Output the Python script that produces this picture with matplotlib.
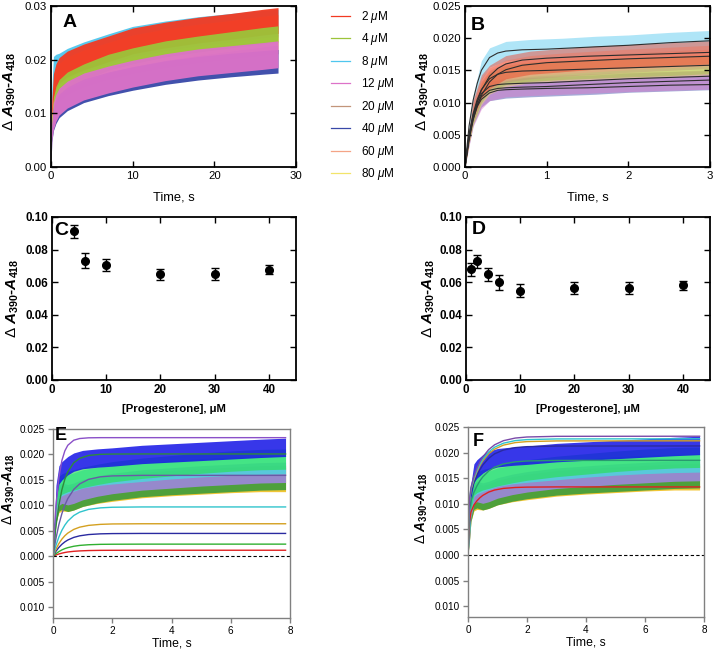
import matplotlib
matplotlib.use('Agg')
import matplotlib.pyplot as plt
import numpy as np
from matplotlib.lines import Line2D
from matplotlib.ticker import FuncFormatter

plt.rcParams['font.family'] = ['Liberation Sans', 'DejaVu Sans']
plt.rcParams['mathtext.fontset'] = 'custom'
plt.rcParams['mathtext.rm'] = 'Liberation Sans'
plt.rcParams['mathtext.it'] = 'Liberation Sans:italic'
plt.rcParams['mathtext.bf'] = 'Liberation Sans:bold'
plt.rcParams['mathtext.bfit'] = 'Liberation Sans:bold:italic'
plt.rcParams['mathtext.sf'] = 'Liberation Sans'

# ---------------- data ----------------
conc_labels = ['2 $\\mu$M', '4 $\\mu$M', '8 $\\mu$M', '12 $\\mu$M',
               '20 $\\mu$M', '40 $\\mu$M', '60 $\\mu$M', '80 $\\mu$M']
conc_colors = ['#f23a22', '#9cc43a', '#4fc6ee', '#dd72c8',
               '#c2957a', '#3848a8', '#f4a486', '#f2e46a']

# Panel A: noisy traces (centre and half-width of noise band)
tA = [0, 0.1, 0.3, 0.6, 1, 2, 4, 7, 10, 14, 18, 22, 26, 27.8]
spreadA = [0, 0.6, 1, 1, 1, 1, 1, 1, 1, 1, 1, 1, 1, 1]
A_2 = [0, 0.011, 0.0150, 0.0168, 0.0180, 0.0192, 0.0205, 0.0220, 0.0235, 0.0246, 0.0255, 0.0262, 0.0270, 0.0273]
A_4 = [0, 0.008, 0.0115, 0.0135, 0.0148, 0.0162, 0.0177, 0.0195, 0.0207, 0.0220, 0.0229, 0.0237, 0.0245, 0.0248]
A_8 = [0, 0.013, 0.0180, 0.0184, 0.0186, 0.0195, 0.0207, 0.0222, 0.0236, 0.0246, 0.0254, 0.0260, 0.0266, 0.0268]
A_12 = [0, 0.0065, 0.0095, 0.0110, 0.0122, 0.0135, 0.0150, 0.0163, 0.0174, 0.0186, 0.0195, 0.0201, 0.0207, 0.0210]
A_20 = [0, 0.008, 0.0112, 0.0128, 0.0140, 0.0153, 0.0167, 0.0181, 0.0192, 0.0203, 0.0212, 0.0219, 0.0226, 0.0229]
A_40 = [0, 0.006, 0.0090, 0.0103, 0.0114, 0.0127, 0.0142, 0.0155, 0.0165, 0.0176, 0.0184, 0.0190, 0.0195, 0.0197]
A_60 = [0, 0.010, 0.0145, 0.0162, 0.0173, 0.0185, 0.0198, 0.0212, 0.0226, 0.0237, 0.0246, 0.0253, 0.0261, 0.0264]
A_80 = [0, 0.0085, 0.0120, 0.0138, 0.0150, 0.0163, 0.0178, 0.0193, 0.0205, 0.0217, 0.0226, 0.0234, 0.0242, 0.0245]
A_traces = [A_2, A_4, A_8, A_12, A_20, A_40, A_60, A_80]
A_hw = [0.0024, 0.0015, 0.0026, 0.0025, 0.0018, 0.0022, 0.0020, 0.0018]
A_order = [2, 4, 7, 6, 0, 1, 5, 3]

# Panel B: noisy traces
tB = [0, 0.05, 0.1, 0.2, 0.3, 0.5, 0.8, 1.2, 1.6, 2.0, 2.5, 3.0]
spreadB = [0, 0.5, 0.8, 1, 1, 1, 1, 1, 1, 1, 1, 1]
B_2 = [0, 0.005, 0.009, 0.0125, 0.0140, 0.0155, 0.0162, 0.0166, 0.0170, 0.0172, 0.0175, 0.0178]
B_4 = [0, 0.0045, 0.008, 0.0115, 0.0132, 0.0143, 0.0148, 0.0151, 0.0153, 0.0155, 0.0157, 0.0160]
B_8 = [0, 0.006, 0.010, 0.0150, 0.0170, 0.0180, 0.0183, 0.0185, 0.0188, 0.0190, 0.0194, 0.0197]
B_12 = [0, 0.004, 0.0075, 0.0105, 0.0118, 0.0124, 0.0126, 0.0128, 0.0130, 0.0132, 0.0134, 0.0136]
B_20 = [0, 0.0045, 0.0082, 0.0118, 0.0135, 0.0147, 0.0152, 0.0156, 0.0159, 0.0162, 0.0165, 0.0168]
B_40 = [0, 0.0042, 0.0077, 0.0108, 0.0118, 0.0122, 0.0124, 0.0126, 0.0128, 0.0131, 0.0133, 0.0135]
B_60 = [0, 0.005, 0.0088, 0.0122, 0.0138, 0.0150, 0.0157, 0.0161, 0.0164, 0.0167, 0.0170, 0.0173]
B_80 = [0, 0.0044, 0.0078, 0.0112, 0.0128, 0.0140, 0.0146, 0.0149, 0.0151, 0.0153, 0.0155, 0.0158]
B_traces = [B_2, B_4, B_8, B_12, B_20, B_40, B_60, B_80]
B_hw = [0.0018, 0.0015, 0.0015, 0.0015, 0.0015, 0.0015, 0.0016, 0.0015]
B_order = [5, 3, 7, 1, 4, 2, 6, 0]

# Panel B: fitted curves
tBfit = [0, 0.05, 0.1, 0.15, 0.2, 0.3, 0.4, 0.5, 0.7, 1.0, 1.5, 2.0, 2.5, 3.0]
Bfit1 = [0, 0.0064, 0.0104, 0.0130, 0.0150, 0.0170, 0.0177, 0.0180, 0.0182, 0.0183, 0.0186, 0.0189, 0.0193, 0.0196]
Bfit2 = [0, 0.0045, 0.0078, 0.0102, 0.0119, 0.0141, 0.0153, 0.0160, 0.0166, 0.0169, 0.0172, 0.0174, 0.0176, 0.0178]
Bfit3 = [0, 0.0042, 0.0073, 0.0095, 0.0111, 0.0132, 0.0144, 0.0151, 0.0158, 0.0162, 0.0165, 0.0168, 0.0170, 0.0172]
Bfit4 = [0, 0.0050, 0.0083, 0.0105, 0.0120, 0.0137, 0.0144, 0.0147, 0.0149, 0.0150, 0.0152, 0.0154, 0.0156, 0.0158]
Bfit5 = [0, 0.0049, 0.0081, 0.0101, 0.0114, 0.0125, 0.0128, 0.0129, 0.0130, 0.0131, 0.0134, 0.0137, 0.0139, 0.0141]
Bfit6 = [0, 0.0047, 0.0078, 0.0097, 0.0109, 0.0119, 0.0122, 0.0123, 0.0124, 0.0125, 0.0128, 0.0131, 0.0133, 0.0135]
Bfit7 = [0, 0.0045, 0.0075, 0.0094, 0.0105, 0.0115, 0.0119, 0.0120, 0.0121, 0.0122, 0.0123, 0.0125, 0.0127, 0.0128]
B_fits = [Bfit1, Bfit2, Bfit3, Bfit4, Bfit5, Bfit6, Bfit7]

# Panel C and D: amplitudes vs progesterone
C_x = [4, 6, 10, 20, 30, 40]
C_y = [0.0912, 0.0731, 0.0704, 0.0649, 0.0651, 0.0676]
C_err = [0.0041, 0.0046, 0.0038, 0.0035, 0.0035, 0.0027]
D_x = [1, 2, 4, 6, 10, 20, 30, 40]
D_y = [0.0678, 0.0729, 0.0649, 0.0600, 0.0547, 0.0565, 0.0565, 0.0580]
D_err = [0.0037, 0.0040, 0.0039, 0.0045, 0.0039, 0.0035, 0.0035, 0.0029]

# Panels E and F: noisy traces (shared)
tE = [0, 0.05, 0.1, 0.2, 0.3, 0.5, 0.7, 1.0, 1.5, 2, 3, 4, 5, 6, 7, 7.85]
spreadE = [0, 0.5, 0.8, 1, 1, 1, 1, 1, 1, 1, 1, 1, 1, 1, 1, 1]
E_gold = [0, 0.004, 0.0085, 0.0110, 0.0113, 0.0112, 0.0115, 0.0122, 0.0128, 0.0132, 0.0139, 0.0143, 0.0146, 0.0149, 0.0151, 0.0151]
E_forest = [0, 0.004, 0.0085, 0.0113, 0.0116, 0.0112, 0.0115, 0.0122, 0.0129, 0.0134, 0.0141, 0.0145, 0.0148, 0.0151, 0.0154, 0.0155]
E_lav = [0, 0.004, 0.0090, 0.0120, 0.0124, 0.0121, 0.0124, 0.0131, 0.0138, 0.0143, 0.0150, 0.0154, 0.0158, 0.0161, 0.0164, 0.0165]
E_cyan = [0, 0.005, 0.0100, 0.0132, 0.0137, 0.0142, 0.0146, 0.0152, 0.0157, 0.0160, 0.0165, 0.0170, 0.0174, 0.0177, 0.0179, 0.0180]
E_lime = [0, 0.005, 0.0105, 0.0137, 0.0142, 0.0147, 0.0150, 0.0155, 0.0161, 0.0166, 0.0173, 0.0178, 0.0183, 0.0187, 0.0190, 0.0191]
E_blue = [0, 0.006, 0.0125, 0.0160, 0.0168, 0.0178, 0.0185, 0.0190, 0.0193, 0.0195, 0.0200, 0.0203, 0.0206, 0.0209, 0.0212, 0.0214]
E_traces = [E_gold, E_forest, E_lav, E_cyan, E_lime, E_blue]
E_trace_colors = ['#f0c020', '#3c9c3c', '#a486e6', '#40e4e0', '#28e050', '#1414e6']
E_hw = [0.0024, 0.0024, 0.0020, 0.0018, 0.0020, 0.0018]
E_alpha = [0.9, 0.9, 0.85, 0.7, 0.65, 0.85]

# Panel E: fitted curves
tEfit = [0, 0.05, 0.1, 0.2, 0.3, 0.4, 0.5, 0.7, 0.9, 1.2, 1.6, 2.0, 3.0, 7.85]
Efit_purple = [0, 0.0056, 0.00986, 0.01554, 0.01882, 0.02071, 0.02181, 0.0228, 0.02313, 0.02327, 0.0233, 0.0233, 0.0233, 0.0233]
Efit_dkgreen = [0, 0.00323, 0.00593, 0.01011, 0.01307, 0.01514, 0.0166, 0.01837, 0.01924, 0.0198, 0.02003, 0.02008, 0.0201, 0.0201]
Efit_slate = [0, 0.00187, 0.00352, 0.00626, 0.00839, 0.01005, 0.01134, 0.01314, 0.01422, 0.01511, 0.01561, 0.01579, 0.0159, 0.0159]
Efit_cyan = [0, 0.00114, 0.00215, 0.00382, 0.00512, 0.00613, 0.00692, 0.00801, 0.00868, 0.00922, 0.00952, 0.00964, 0.0097, 0.0097]
Efit_gold = [0, 0.00075, 0.00142, 0.00252, 0.00338, 0.00405, 0.00457, 0.00529, 0.00573, 0.00608, 0.00628, 0.00636, 0.0064, 0.0064]
Efit_dkblue = [0, 0.00053, 0.001, 0.00177, 0.00237, 0.00284, 0.00321, 0.00372, 0.00403, 0.00428, 0.00442, 0.00447, 0.0045, 0.0045]
Efit_green = [0, 0.00028, 0.00053, 0.00094, 0.00127, 0.00152, 0.00171, 0.00198, 0.00215, 0.00228, 0.00236, 0.00238, 0.0024, 0.0024]
Efit_red = [0, 0.00014, 0.00027, 0.00047, 0.00063, 0.00076, 0.00086, 0.00099, 0.00107, 0.00114, 0.00118, 0.00119, 0.0012, 0.0012]
E_fits = [Efit_red, Efit_green, Efit_dkblue, Efit_gold, Efit_cyan, Efit_slate, Efit_dkgreen, Efit_purple]
E_fit_colors = ['#e02020', '#30b030', '#2a2aa0', '#d4a020', '#30c4cc', '#6a5aa6', '#2e8b3a', '#8a50c8']

# Panel F: fitted curves
tFfit = [0, 0.02, 0.05, 0.1, 0.2, 0.3, 0.4, 0.5, 0.7, 0.9, 1.2, 1.6, 2.0, 3.0, 7.85]
Ffit_purple = [0, 0.00658, 0.01079, 0.01321, 0.01534, 0.01689, 0.01814, 0.01914, 0.02058, 0.02152, 0.02233, 0.02284, 0.02305, 0.02318, 0.0232]
Ffit_cyan = [0, 0.00644, 0.01055, 0.01292, 0.0150, 0.01652, 0.01774, 0.01872, 0.02013, 0.02105, 0.02184, 0.02234, 0.02254, 0.02267, 0.0227]
Ffit_gold = [0, 0.00632, 0.01037, 0.01269, 0.01474, 0.01623, 0.01743, 0.01839, 0.01978, 0.02068, 0.02146, 0.02195, 0.02215, 0.02228, 0.0223]
Ffit_dkblue = [0, 0.00604, 0.00991, 0.01213, 0.01408, 0.01551, 0.01665, 0.01757, 0.01889, 0.01976, 0.0205, 0.02097, 0.02116, 0.02128, 0.0213]
Ffit_teal = [0, 0.00524, 0.0086, 0.01053, 0.01223, 0.01346, 0.01446, 0.01525, 0.0164, 0.01715, 0.0178, 0.0182, 0.01837, 0.01847, 0.0185]
Ffit_red = [0, 0.00366, 0.00651, 0.00841, 0.00976, 0.01056, 0.01117, 0.01164, 0.01229, 0.01269, 0.01301, 0.01319, 0.01326, 0.0133, 0.0133]
F_fits = [Ffit_red, Ffit_teal, Ffit_dkblue, Ffit_gold, Ffit_cyan, Ffit_purple]
F_fit_colors = ['#e02020', '#2a9a70', '#2a2aa0', '#d4a020', '#30c4cc', '#7a4aa8']

ylab = r'$\Delta$ $\mathbfit{A}_{\mathbf{390}}$-$\mathbfit{A}_{\mathbf{418}}$'

# ---------------- figure ----------------
W, H = 713, 651
fig = plt.figure(figsize=(W / 100, H / 100), dpi=100)


def add_ax(l, t, r, b):
    return fig.add_axes([l / W, 1 - b / H, (r - l) / W, (b - t) / H])


def box_style(ax, bold=False, size=8.2):
    for s in ax.spines.values():
        s.set_linewidth(1.3)
        s.set_color('black')
    ax.tick_params(direction='in', top=True, right=True, length=4, width=1,
                   labelsize=size, pad=3)
    if bold:
        for lb in ax.get_xticklabels() + ax.get_yticklabels():
            lb.set_fontweight('bold')


def band(ax, t, mid, hw, spread, color, alpha):
    mid = np.asarray(mid)
    w = hw * np.asarray(spread)
    ax.fill_between(t, mid - w, mid + w, color=color, alpha=alpha, lw=0)


# ---- Panel A ----
axA = add_ax(51, 6, 296, 167)
for i in A_order:
    band(axA, tA, A_traces[i], A_hw[i], spreadA, conc_colors[i], 0.95)
axA.set_xlim(0, 30)
axA.set_ylim(0, 0.03)
axA.set_xticks([0, 10, 20, 30])
axA.set_yticks([0, 0.01, 0.02, 0.03])
axA.yaxis.set_major_formatter(FuncFormatter(lambda v, p: f'{v:.2f}'))
box_style(axA)
axA.set_xlabel('Time, s', fontsize=9.3)
axA.xaxis.set_label_coords(0.5, -0.15)
axA.set_ylabel(ylab, fontsize=11, fontweight='bold')
axA.yaxis.set_label_coords(-0.135, 0.47)
axA.text(0.045, 0.95, 'A', transform=axA.transAxes, fontsize=14,
         fontweight='bold', va='top', ha='left')

handles = [Line2D([0], [0], color=c, lw=0.9) for c in conc_colors]
fig.legend(handles, conc_labels, loc='upper left',
           bbox_to_anchor=(331 / W, 1 - 9 / H), frameon=False, fontsize=8.5,
           handlelength=1.6, handletextpad=0.9, labelspacing=0.55,
           borderpad=0, borderaxespad=0)

# ---- Panel B ----
axB = add_ax(465, 6, 710, 167)
for i in B_order:
    band(axB, tB, B_traces[i], B_hw[i], spreadB, conc_colors[i], 0.45)
for f in B_fits:
    axB.plot(tBfit, f, color='#2e2e2e', lw=0.8)
axB.set_xlim(0, 3)
axB.set_ylim(0, 0.025)
axB.set_xticks([0, 1, 2, 3])
axB.set_yticks([0, 0.005, 0.01, 0.015, 0.02, 0.025])
axB.yaxis.set_major_formatter(FuncFormatter(lambda v, p: f'{v:.3f}'))
box_style(axB)
axB.set_xlabel('Time, s', fontsize=9.3)
axB.xaxis.set_label_coords(0.5, -0.15)
axB.set_ylabel(ylab, fontsize=11, fontweight='bold')
axB.yaxis.set_label_coords(-0.138, 0.47)
axB.text(0.025, 0.93, 'B', transform=axB.transAxes, fontsize=14,
         fontweight='bold', va='top', ha='left')

# ---- Panels C and D ----
def amp_panel(ax, x, y, err, letter, lx, ly, lblx):
    ax.errorbar(x, y, yerr=err, fmt='o', color='black', ms=5.5, capsize=3,
                elinewidth=1, capthick=1)
    ax.set_xlim(0, 45)
    ax.set_ylim(0, 0.10)
    ax.set_xticks([0, 10, 20, 30, 40])
    ax.set_yticks([0, 0.02, 0.04, 0.06, 0.08, 0.10])
    ax.yaxis.set_major_formatter(FuncFormatter(lambda v, p: f'{v:.2f}'))
    box_style(ax, bold=True, size=8.4)
    ax.set_xlabel('[Progesterone], \u03bcM', fontsize=8.2, fontweight='bold')
    ax.xaxis.set_label_coords(0.5, -0.145)
    ax.set_ylabel(ylab, fontsize=11, fontweight='bold')
    ax.yaxis.set_label_coords(lblx, 0.5)
    ax.text(lx, ly, letter, transform=ax.transAxes, fontsize=14,
            fontweight='bold', va='top', ha='left')


axC = add_ax(52, 217, 296, 380)
amp_panel(axC, C_x, C_y, C_err, 'C', 0.01, 0.97, -0.127)
axD = add_ax(466, 217, 710, 380)
amp_panel(axD, D_x, D_y, D_err, 'D', 0.025, 0.975, -0.119)

# ---- Panels E and F ----
def kin_panel(ax, tfit, fits, fcolors, letter, lx, ly, lblx, lbly):
    for mid, hw, c, a in zip(E_traces, E_hw, E_trace_colors, E_alpha):
        band(ax, tE, mid, hw, spreadE, c, a)
    for f, c in zip(fits, fcolors):
        ax.plot(tfit, f, color=c, lw=1.0)
    ax.axhline(0, color='black', lw=0.8, ls=(0, (3, 2)))
    ax.set_xlim(0, 8)
    ax.set_ylim(-0.0121, 0.025)
    ax.set_xticks([0, 2, 4, 6, 8])
    ax.set_yticks([-0.01, -0.005, 0, 0.005, 0.01, 0.015, 0.02, 0.025])
    ax.yaxis.set_major_formatter(FuncFormatter(lambda v, p: f'{abs(v):.3f}'))
    for s in ax.spines.values():
        s.set_linewidth(1.0)
        s.set_color('#808080')
    ax.tick_params(direction='out', length=3.5, width=1, color='#808080',
                   labelsize=7.2, pad=2)
    ax.set_xlabel('Time, s', fontsize=8.8)
    ax.xaxis.set_label_coords(0.5, -0.105)
    ax.set_ylabel(ylab, fontsize=9.8, fontweight='bold')
    ax.yaxis.set_label_coords(lblx, lbly)
    ax.text(lx, ly, letter, transform=ax.transAxes, fontsize=13,
            fontweight='bold', va='top', ha='left')


axE = add_ax(53, 429, 290, 618)
kin_panel(axE, tEfit, E_fits, E_fit_colors, 'E', 0.008, 1.01, -0.152, 0.68)
axF = add_ax(468, 427, 704, 617)
kin_panel(axF, tFfit, F_fits, F_fit_colors, 'F', 0.02, 0.97, -0.161, 0.574)

fig.savefig('out.png', dpi=100)
